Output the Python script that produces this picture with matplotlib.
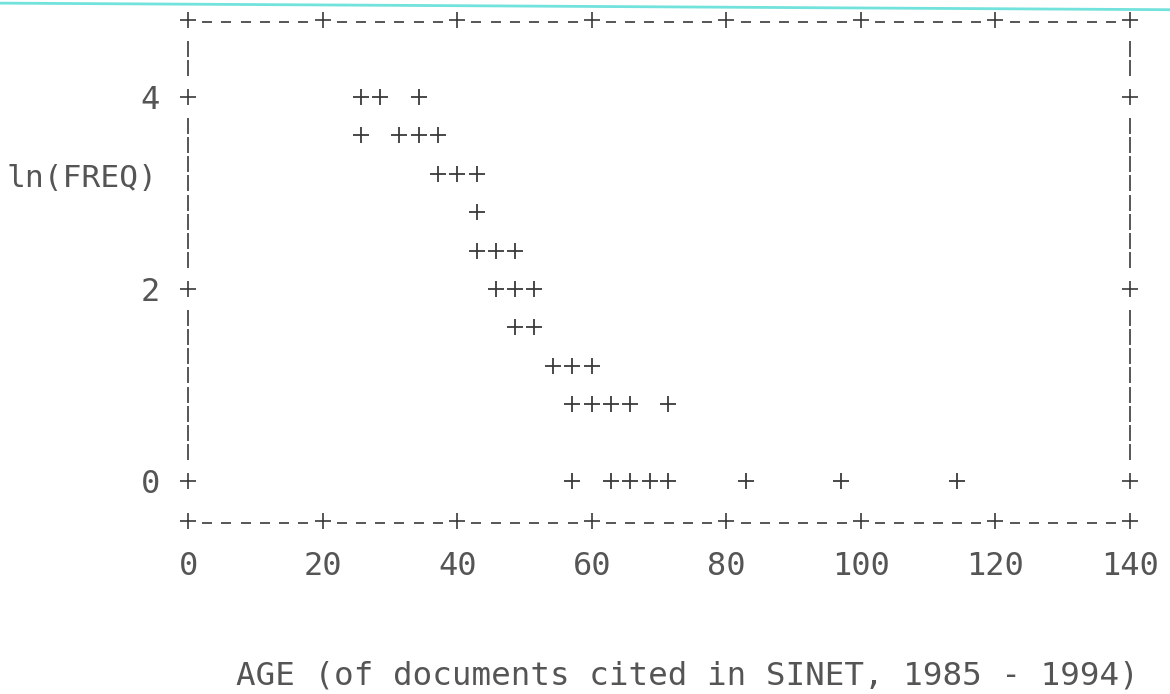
import numpy as np
from matplotlib import pyplot as plt

# ages (column centres of the line-printer plot) and ln(freq) rows
age = [25.7, 28.6, 34.3,
       25.7, 31.4, 34.3, 37.1,
       37.1, 40.0, 42.9,
       42.9,
       42.9, 45.7, 48.6,
       45.7, 48.6, 51.4,
       48.6, 51.4,
       54.3, 57.1, 60.0,
       57.1, 60.0, 62.9, 65.7, 71.4,
       57.1, 62.9, 65.7, 68.6, 71.4, 82.9, 97.1, 114.3]
ln_freq = [4.0, 4.0, 4.0,
           3.6, 3.6, 3.6, 3.6,
           3.2, 3.2, 3.2,
           2.8,
           2.4, 2.4, 2.4,
           2.0, 2.0, 2.0,
           1.6, 1.6,
           1.2, 1.2, 1.2,
           0.8, 0.8, 0.8, 0.8, 0.8,
           0.0, 0.0, 0.0, 0.0, 0.0, 0.0, 0.0, 0.0]
x_ticks = [0, 20, 40, 60, 80, 100, 120, 140]
y_ticks = [0, 2, 4]

ink = '#3a3a3a'
txt = '#555555'
mono = 'DejaVu Sans Mono'

fig = plt.figure(figsize=(11.7, 6.94), dpi=100)
ax = fig.add_axes([0, 0, 1, 1])
ax.set_xlim(-27.94, 145.94)
ax.set_ylim(-2.219, 5.010)
ax.axis('off')

# scanner line at the very top
ax.plot([0, 1], [0.9955, 0.986], transform=ax.transAxes, color='#72e2dc', lw=2)

# printer-style frame: + at ticks, - and | in between
top, bottom = 4.8, -0.42
cols = np.arange(50) * 20 / 7
is_tick = np.arange(50) % 7 == 0
for yb in (top, bottom):
    ax.plot(cols[is_tick], np.full(is_tick.sum(), yb), '+', ms=11, mew=1.2, color=ink)
    ax.plot(cols[~is_tick], np.full((~is_tick).sum(), yb - 0.02), '_', ms=6.5, mew=1.2, color=ink)
side_rows = np.array([4.4, 3.6, 3.2, 2.8, 2.4, 1.6, 1.2, 0.8, 0.4])
side_y = np.concatenate([side_rows - 0.1, side_rows + 0.1])
for xb in (0, 140):
    ax.plot(np.full(len(y_ticks), xb), y_ticks, '+', ms=11, mew=1.2, color=ink)
    ax.plot(np.full(len(side_y), xb), side_y, '|', ms=11, mew=1.2, color=ink)

# data points
ax.plot(age, ln_freq, '+', ms=12, mew=1.3, color=ink)

# tick labels
for xt in x_ticks:
    ax.text(xt, -0.98, str(xt), ha='center', va='baseline', fontsize=23, family=mono, color=txt)
for yt in y_ticks:
    ax.text(-4.2, yt - 0.125, str(yt), ha='right', va='baseline', fontsize=23, family=mono, color=txt)

ax.text(-4.6, 3.06, 'ln(FREQ)', ha='right', va='baseline', fontsize=22.5, family=mono, color=txt)
ax.text(74.2, -2.115, 'AGE (of documents cited in SINET, 1985 - 1994)', ha='center', va='baseline',
        fontsize=23.4, family=mono, color=txt)

fig.savefig('out.png', dpi=100)
